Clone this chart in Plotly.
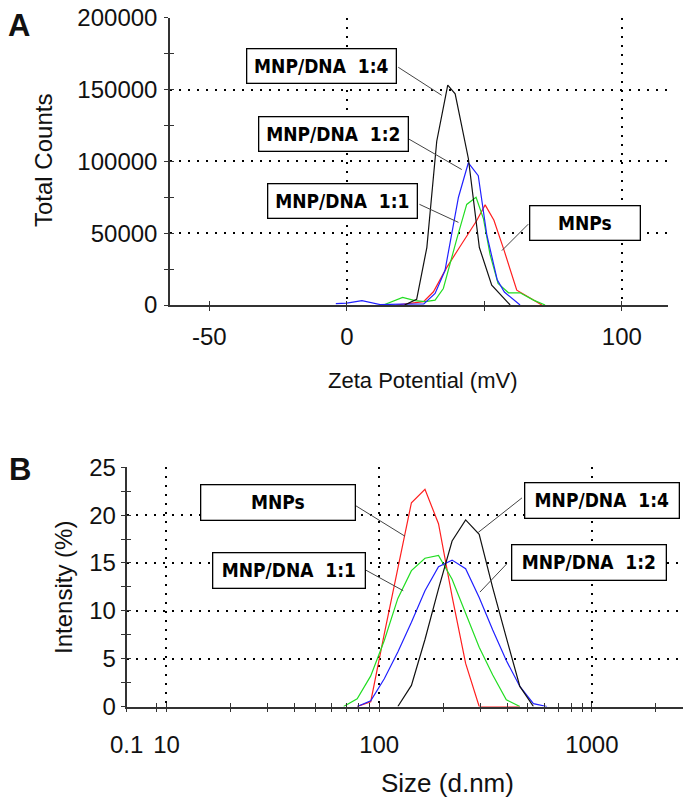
import numpy as np
import plotly.graph_objects as go

W, H = 690, 806

# ---------------- Panel A: zeta potential distributions ----------------
zeta_mnps = [18, 23, 27.9, 31.5, 36.3, 40.6, 44.2, 47.2, 50.3, 53.5, 57.2, 61.8, 66.5, 70.9]
counts_mnps = [0, 1100, 2300, 9200, 26000, 39000, 49500, 58600, 69700, 59000, 38000, 10300, 5000, 0]

zeta_11 = [13.3, 20.3, 24.8, 28.5, 32.1, 35.1, 40, 43.6, 47, 49.7, 52.1, 55, 58.8, 63, 67.9, 72.1]
counts_11 = [0, 5300, 3000, 2300, 3400, 11500, 46000, 70000, 75000, 60000, 35000, 15000, 8500, 8500, 3400, 0]

zeta_12 = [-4, 0, 5.5, 9, 12.1, 20, 28, 32.1, 35.7, 40.6, 44.2, 47.8, 50.9, 54.7, 57.3, 63]
counts_12 = [1000, 1300, 3000, 1300, 300, 600, 800, 8000, 24000, 75000, 99000, 90000, 49000, 17500, 9000, 0]

zeta_14 = [21, 25.4, 29.1, 32.7, 36.7, 39.4, 44.2, 48.2, 52.7, 59.4]
counts_14 = [0, 4000, 40000, 114000, 153000, 147000, 102000, 40000, 13800, 0]

# ---------------- Panel B: size distributions ----------------
size_mnps = [78.82, 91.28, 105.7, 122.4, 141.8, 164.2, 190.1, 220.2, 255.0, 295.3, 342.0, 396.1, 458.7]
int_mnps = [0, 0.5, 7.6, 14.5, 21.3, 22.7, 19.1, 11.5, 4.5, 0, 0, 0, 0]

size_11 = [68.06, 78.82, 91.28, 105.7, 122.4, 141.8, 164.2, 190.1, 220.2, 255.0, 295.3, 342.0, 396.1, 458.7]
int_11 = [0, 0.8, 3.2, 6.9, 11.3, 14.2, 15.5, 15.8, 13.3, 9.8, 6.2, 3.3, 0.7, 0]

size_12 = [78.82, 91.28, 105.7, 122.4, 141.8, 164.2, 190.1, 220.2, 255.0, 295.3, 342.0, 396.1, 458.7, 531.2, 615.1]
int_12 = [0, 0.6, 2.9, 5.7, 8.8, 12.1, 14.6, 15.3, 14.4, 11.4, 8.0, 4.8, 2.1, 0.3, 0]

size_14 = [122.4, 141.8, 164.2, 190.1, 220.2, 255.0, 295.3, 342.0, 396.1, 458.7, 531.2]
int_14 = [0, 2.2, 7.0, 12.3, 17.3, 19.5, 18.0, 12.4, 7.2, 2.1, 0]

series_names = ["MNPs", "MNP/DNA 1:1", "MNP/DNA 1:2", "MNP/DNA 1:4"]
series_colors = ["#ff1f1f", "#22dd22", "#2020ff", "#111111"]

# tick labels
top_x_ticks = [-50, 0, 100]
top_x_minor = [50]
top_x_grid = [0, 100]
top_y_ticks = [0, 50000, 100000, 150000, 200000]
top_y_minor = [25000, 75000, 125000, 175000]
bot_x_ticks = [10, 100, 1000]
bot_x_minor = [9, 20, 30, 40, 50, 60, 70, 80, 90, 200, 300, 400, 500, 600, 700, 800, 900, 2000]
bot_y_ticks = [0, 5, 10, 15, 20, 25]
bot_y_minor = [2.5, 7.5, 12.5, 17.5, 22.5]

TOP_X_RANGE = [-64.3, 116.8]
TOP_Y_RANGE = [0, 200000]
BOT_X_RANGE = [0.812, 3.43]  # log10
BOT_Y_RANGE = [0, 25]

# callouts: text, box centre, leader line start, leader line end, box width
top_callouts = [
    ("MNP/DNA\u00a0 1:4", (-9.1, 166100), (18.7, 165500), (34.5, 146000), 148),
    ("MNP/DNA\u00a0 1:2", (-5.0, 119200), (22.4, 115700), (41.8, 94300), 148),
    ("MNP/DNA\u00a0 1:1", (-1.6, 72600), (26.4, 70100), (40.6, 57500), 148),
    ("MNPs", (86.5, 56900), (66.0, 56300), (56.4, 37900), 109),
]
bot_callouts = [
    ("MNPs", (33.5, 21.3), (77.4, 21.0), (132.2, 17.8), 153),
    ("MNP/DNA\u00a0 1:4", (1118, 21.56), (469.2, 21.8), (292.4, 18.2), 153),
    ("MNP/DNA\u00a0 1:2", (968, 15.0), (397.6, 14.9), (297.8, 11.96), 153),
    ("MNP/DNA\u00a0 1:1", (37.6, 14.25), (84.2, 14.4), (129.8, 12.1), 151),
]

FONT = "Liberation Sans, Arial, sans-serif"
BOX_FONT = "Liberation Sans Narrow, DejaVu Sans Condensed, Roboto, sans-serif"
AXC = "#333333"
GRID = dict(showgrid=True, gridcolor="#000000", gridwidth=2, griddash="2px,7px")

fig = go.Figure()

top_data = [(zeta_mnps, counts_mnps), (zeta_11, counts_11), (zeta_12, counts_12), (zeta_14, counts_14)]
bot_data = [(size_mnps, int_mnps), (size_11, int_11), (size_12, int_12), (size_14, int_14)]

for (x, y), name, c in zip(top_data, series_names, series_colors):
    fig.add_trace(go.Scatter(x=x, y=y, mode="lines", name=name, line=dict(color=c, width=1.2),
                             xaxis="x", yaxis="y", showlegend=False))
for (x, y), name, c in zip(bot_data, series_names, series_colors):
    fig.add_trace(go.Scatter(x=x, y=y, mode="lines", name=name, line=dict(color=c, width=1.2),
                             xaxis="x2", yaxis="y2", showlegend=False))

# empty helper traces so that the overlay (grid / inner-tick) axes are rendered
for xa, ya in [("x3", "y3"), ("x4", "y4")]:
    fig.add_trace(go.Scatter(x=[], y=[], xaxis=xa, yaxis=ya, mode="lines",
                             showlegend=False, hoverinfo="skip"))


def px2paper(px, py):
    return px / W, 1 - py / H


dom_top_x = [170 / W, 668 / W]
dom_top_y = [1 - 305 / H, 1 - 17.7 / H]
dom_bot_x = [126.5 / W, 683.3 / W]
dom_bot_y = [1 - 706.5 / H, 1 - 467.3 / H]

tickfont = dict(family=FONT, size=24, color="#111111")
common_main = dict(showline=True, linecolor=AXC, linewidth=1.5, zeroline=False, showgrid=False,
                   ticks="outside", ticklen=4, tickwidth=1.2, tickcolor=AXC, tickfont=tickfont,
                   tickmode="array", automargin=False)
common_over = dict(showline=False, zeroline=False, showticklabels=False, automargin=False,
                   ticks="inside", ticklen=4, tickwidth=1.2, tickcolor=AXC, tickmode="array")


def minor(vals, side):
    return dict(tickmode="array", tickvals=vals, ticks=side, ticklen=4, tickwidth=1.2,
                tickcolor=AXC, showgrid=False)


bx0 = 10 ** (BOT_X_RANGE[0] + 0.0005)

fig.update_layout(
    template="none",
    width=W, height=H, margin=dict(l=0, r=0, t=0, b=0, pad=0),
    paper_bgcolor="white", plot_bgcolor="white", showlegend=False,
    xaxis=dict(domain=dom_top_x, range=TOP_X_RANGE, anchor="y",
               tickvals=top_x_ticks, ticktext=[str(v) for v in top_x_ticks],
               minor=minor(top_x_minor, "outside"), ticklabelstandoff=5, **common_main),
    xaxis3=dict(overlaying="x", anchor="y", range=TOP_X_RANGE, tickvals=top_x_grid,
                minor=minor(top_x_ticks[:1] + top_x_minor, "inside"), **GRID, **common_over),
    yaxis=dict(domain=dom_top_y, range=TOP_Y_RANGE, anchor="x",
               tickvals=top_y_ticks, ticktext=[str(v) for v in top_y_ticks],
               minor=minor(top_y_minor, "outside"), ticklabelstandoff=2, **common_main),
    yaxis3=dict(overlaying="y", anchor="x", range=TOP_Y_RANGE, tickvals=top_y_ticks[1:],
                minor=minor(top_y_minor, "inside"), **GRID, **common_over),
    xaxis2=dict(domain=dom_bot_x, type="log", range=BOT_X_RANGE, anchor="y2",
                tickvals=[bx0] + bot_x_ticks, ticktext=["0.1"] + [str(v) for v in bot_x_ticks],
                minor=minor(bot_x_minor, "outside"), ticklabelstandoff=12, **common_main),
    xaxis4=dict(overlaying="x2", anchor="y2", type="log", range=BOT_X_RANGE, tickvals=bot_x_ticks,
                minor=minor(bot_x_minor, "inside"), **GRID, **common_over),
    yaxis2=dict(domain=dom_bot_y, range=BOT_Y_RANGE, anchor="x2",
                tickvals=bot_y_ticks, ticktext=[str(v) for v in bot_y_ticks],
                minor=minor(bot_y_minor, "outside"), ticklabelstandoff=0, **common_main),
    yaxis4=dict(overlaying="y2", anchor="x2", range=BOT_Y_RANGE, tickvals=bot_y_ticks[1:],
                minor=minor(bot_y_minor, "inside"), **GRID, **common_over),
)

annotations = []
shapes = []
box_font = dict(family=BOX_FONT, size=19, color="#000000")


def bot_frac(v):
    return (np.log10(v) - BOT_X_RANGE[0]) / (BOT_X_RANGE[1] - BOT_X_RANGE[0])


for text, (bxc, byc), (lx0, ly0), (lx1, ly1), bw in top_callouts:
    annotations.append(dict(text="<b>%s</b>" % text, x=bxc, y=byc, xref="x", yref="y",
                            showarrow=False, bgcolor="white", bordercolor="#000000", borderwidth=1.3,
                            borderpad=0, width=bw, height=33, font=box_font))
    shapes.append(dict(type="line", xref="x", yref="y", x0=lx0, y0=ly0, x1=lx1, y1=ly1,
                       line=dict(color="#444444", width=1), layer="above"))

for text, (bxc, byc), (lx0, ly0), (lx1, ly1), bw in bot_callouts:
    annotations.append(dict(text="<b>%s</b>" % text, x=float(np.log10(bxc)), y=byc, xref="x2", yref="y2",
                            showarrow=False, bgcolor="white", bordercolor="#000000", borderwidth=1.3,
                            borderpad=0, width=bw, height=34, font=box_font))
    shapes.append(dict(type="line", xref="x2 domain", yref="y2", x0=float(bot_frac(lx0)), y0=ly0,
                       x1=float(bot_frac(lx1)), y1=ly1, line=dict(color="#444444", width=1), layer="above"))

# axis titles & panel letters (pixel positions)
texts = [
    ("Total Counts", 44, 161, -90, 24, False),
    ("Zeta Potential (mV)", 423, 380, 0, 22, False),
    ("Intensity (%)", 63, 588, -90, 24, False),
    ("Size (d.nm)", 448, 783, 0, 26, False),
    ("A", 19, 25.5, 0, 31, True),
    ("B", 20, 469, 0, 31, True),
]
for t, px, py, ang, sz, bold in texts:
    xp, yp = px2paper(px, py)
    annotations.append(dict(text="<b>%s</b>" % t if bold else t, x=xp, y=yp, xref="paper", yref="paper",
                            xanchor="center", yanchor="middle", showarrow=False, textangle=ang,
                            font=dict(family=FONT, size=sz, color="#111111")))

fig.update_layout(annotations=annotations, shapes=shapes)

# remove the browser's default 8px page margin so the figure sits at the window origin
fig.write_html("out.html", config={"displayModeBar": False},
               post_script="document.body.style.margin='0';")
